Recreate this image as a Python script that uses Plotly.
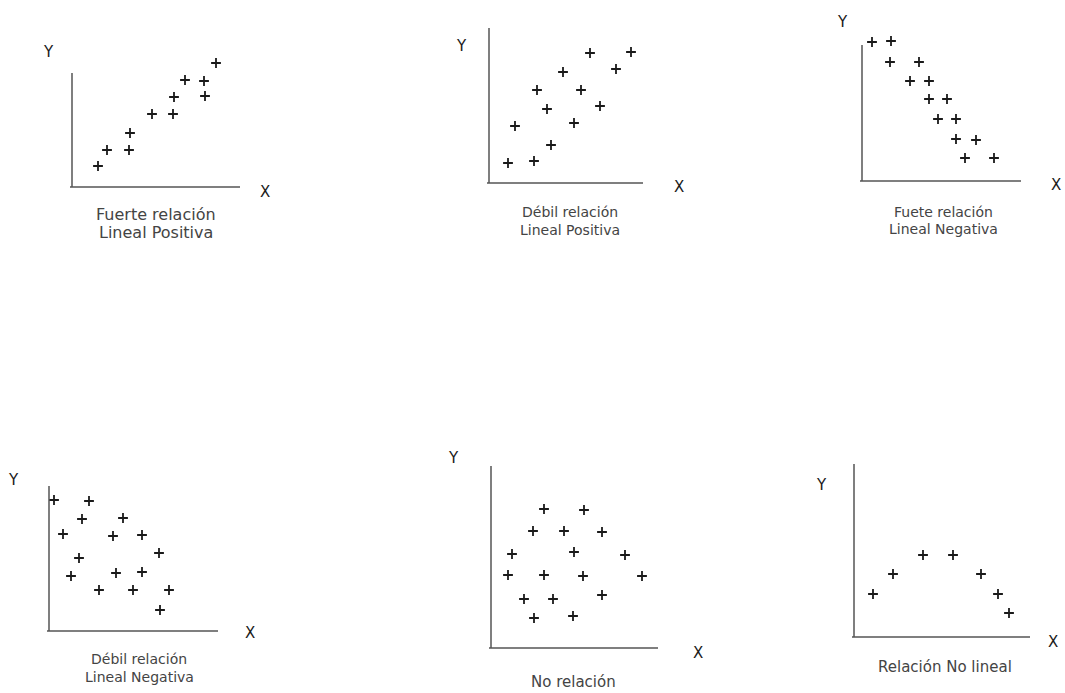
import plotly.graph_objects as go

W, H = 1065, 693

# ---- data (units ~ pixels from each panel's origin) ----
p1_x = [26, 35, 57, 58, 80, 101, 102, 113, 132, 133, 144]
p1_y = [21, 37, 37, 54, 73, 73, 90, 107, 106, 91, 124]

p2_x = [19, 45, 62, 26, 58, 48, 85, 74, 92, 111, 101, 127, 142]
p2_y = [20, 22, 38, 57, 74, 93, 60, 111, 93, 77, 130, 114, 131]

p3_x = [10, 29, 28, 57, 48, 67, 67, 85, 76, 94, 94, 114, 103, 132]
p3_y = [139, 140, 119, 119, 100, 100, 82, 82, 62, 62, 42, 41, 23, 23]

p4_x = [5, 40, 33, 74, 14, 64, 93, 30, 110, 22, 67, 93, 50, 84, 120, 111]
p4_y = [131, 130, 112, 113, 97, 95, 96, 73, 78, 55, 58, 59, 41, 41, 41, 21]

p5_x = [53, 93, 42, 73, 111, 21, 83, 134, 17, 53, 92, 151, 33, 62, 111, 43, 82]
p5_y = [139, 138, 117, 117, 116, 94, 96, 93, 73, 73, 72, 72, 49, 49, 53, 30, 32]

p6_x = [19, 39, 69, 99, 127, 144, 155]
p6_y = [43, 63, 82, 82, 63, 43, 24]

captions = [
    ["Fuerte relación", "Lineal Positiva"],
    ["Débil relación", "Lineal Positiva"],
    ["Fuete relación", "Lineal Negativa"],
    ["Débil relación", "Lineal Negativa"],
    ["No relación"],
    ["Relación No lineal"],
]

# ---- layout geometry (pixels) ----
geom = [
    dict(ox=72, oy=187, xl=168, yl=114, ylab=(48, 52), xlab=(265, 192),
         cx=156, cys=[215, 233], cs=16),
    dict(ox=489, oy=183, xl=154, yl=155, ylab=(461, 46), xlab=(679, 187),
         cx=570, cys=[212, 230], cs=14),
    dict(ox=862, oy=181, xl=159, yl=136, ylab=(842, 22), xlab=(1056, 185),
         cx=943, cys=[212, 229], cs=14),
    dict(ox=49, oy=631, xl=169, yl=145, ylab=(13, 480), xlab=(250, 633),
         cx=139, cys=[659, 677], cs=14),
    dict(ox=491, oy=648, xl=167, yl=182, ylab=(453, 458), xlab=(698, 653),
         cx=573, cys=[682], cs=15),
    dict(ox=854, oy=637, xl=176, yl=173, ylab=(821, 485), xlab=(1053, 642),
         cx=945, cys=[667], cs=15),
]

series = [(p1_x, p1_y), (p2_x, p2_y), (p3_x, p3_y), (p4_x, p4_y), (p5_x, p5_y), (p6_x, p6_y)]

fig = go.Figure()
layout = dict(width=W, height=H, margin=dict(l=0, r=0, t=0, b=0),
              paper_bgcolor="white", plot_bgcolor="rgba(0,0,0,0)",
              showlegend=False, shapes=[], annotations=[])

FONT = "DejaVu Sans, Arial"
pad = 12
for i, ((xs, ys), g) in enumerate(zip(series, geom)):
    n = "" if i == 0 else str(i + 1)
    xr = [-pad, max(g["xl"], max(xs)) + pad]
    yr = [-pad, max(g["yl"], max(ys)) + pad]
    xdom = [(g["ox"] + xr[0]) / W, (g["ox"] + xr[1]) / W]
    ydom = [(H - g["oy"] + yr[0]) / H, (H - g["oy"] + yr[1]) / H]
    layout["xaxis" + n] = dict(domain=xdom, range=xr, visible=False, fixedrange=True,
                               anchor="y" + n)
    layout["yaxis" + n] = dict(domain=ydom, range=yr, visible=False, fixedrange=True,
                               anchor="x" + n)
    fig.add_trace(go.Scatter(
        x=xs, y=ys, mode="markers", xaxis="x" + n, yaxis="y" + n,
        marker=dict(symbol="cross-thin", size=7, line=dict(width=1.8, color="#1a1a1a"),
                    color="#1a1a1a"),
        hoverinfo="skip"))
    ax_col = "#555555"
    layout["shapes"].append(dict(type="line", xref="x" + n, yref="y" + n,
                                 x0=-2, y0=0, x1=g["xl"], y1=0,
                                 line=dict(color=ax_col, width=1.5)))
    layout["shapes"].append(dict(type="line", xref="x" + n, yref="y" + n,
                                 x0=0, y0=0, x1=0, y1=g["yl"],
                                 line=dict(color=ax_col, width=1.5)))
    for txt, (px, py) in (("Y", g["ylab"]), ("X", g["xlab"])):
        layout["annotations"].append(dict(
            text=txt, x=px / W, y=1 - py / H, xref="paper", yref="paper",
            xanchor="center", yanchor="middle", showarrow=False,
            font=dict(family=FONT, size=15, color="#1a1a1a")))
    for line, cy in zip(captions[i], g["cys"]):
        layout["annotations"].append(dict(
            text=line, x=g["cx"] / W, y=1 - cy / H, xref="paper", yref="paper",
            xanchor="center", yanchor="middle", showarrow=False,
            font=dict(family=FONT, size=g["cs"], color="#444444")))

fig.update_layout(**layout)
fig.write_html(
    "out.html",
    config={"displayModeBar": False, "staticPlot": True},
    post_script="document.body.style.margin='0';document.documentElement.style.margin='0';"
                "document.body.style.overflow='hidden';",
)
